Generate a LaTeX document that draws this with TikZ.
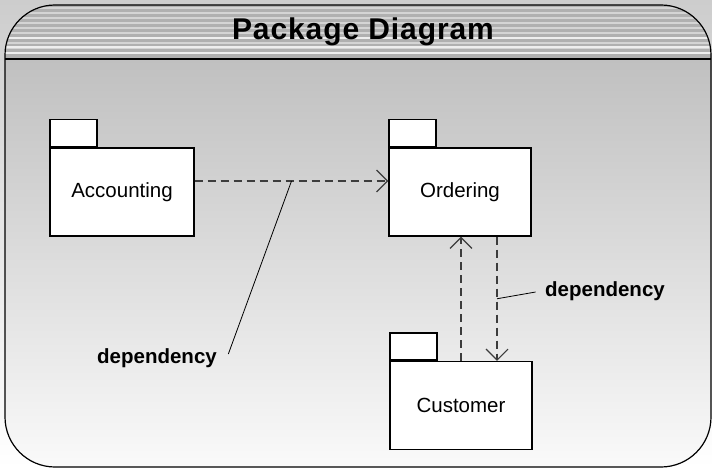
\documentclass[tikz,border=0pt]{standalone}
\usepackage{fontspec}
\setmainfont{Liberation Sans}
\usetikzlibrary{arrows.meta, positioning}
\definecolor{bgTop}{RGB}{205, 205, 205}
\definecolor{bodyTop}{RGB}{192, 192, 192}
\definecolor{bodyBottom}{RGB}{250, 250, 250}
\definecolor{stripeDark}{RGB}{176, 176, 176}
\definecolor{stripeLight}{RGB}{212, 212, 212}
\definecolor{stripeWhite}{RGB}{238, 238, 238}
\definecolor{depGray}{RGB}{60, 60, 60}

\tikzset{
  pkg/.style={draw, line width=1.4pt, fill=white, minimum width=142pt, minimum height=88pt, inner sep=0pt, font=\fontsize{20.5}{22}\selectfont},
  pkgtab/.style={draw, line width=1.4pt, fill=white, minimum width=47pt, minimum height=27pt, inner sep=0pt, anchor=south west},
  dep/.style={draw=depGray, line width=1.1pt, dash pattern=on 8pt off 5pt, -{Straight Barb[length=11pt, width=22pt, line width=1.1pt]}},
  note/.style={font=\bfseries\fontsize{20.5}{22}\selectfont},
}

\begin{document}
\begin{tikzpicture}[x=1pt, y=-1pt]
  % Background
  \useasboundingbox (0,0) rectangle (712,468);
  \shade[top color=bgTop, bottom color=white] (0,0) rectangle (712,468);

  % Frame and title bar
  \begin{scope}
    \clip[rounded corners=50pt] (5,467) -- (5,5) -- (711,5) -- (711,467) -- cycle;
    \shade[top color=bodyTop, bottom color=bodyBottom] (0,59) rectangle (712,468);
    \fill[stripeDark] (0,0) rectangle (712,59);
    \foreach \y in {8,13,...,56}
      \draw[stripeLight, line width=2.5pt] (0,\y) -- (712,\y);
    \foreach \y in {38,47,53}
      \draw[stripeWhite, line width=1.5pt] (0,\y) -- (712,\y);
  \end{scope}
  \draw[line width=1.2pt, rounded corners=50pt] (5,467) -- (5,5) -- (711,5) -- (711,467) -- cycle;
  \draw[line width=1.5pt] (5,59) -- (711,59);
  \node[font=\bfseries\fontsize{30}{32}\selectfont\addfontfeature{LetterSpace=3}] (title) at (363,32) {Package Diagram};

  % Packages
  \node[pkg, minimum width=144pt] (accounting) at (122,192) {Accounting};
  \node[pkgtab] (accountingTab) at (accounting.north west) {};
  \node[pkg] (ordering) at (460,192) {Ordering};
  \node[pkgtab] (orderingTab) at (ordering.north west) {};
  \node[pkg] (customer) at (461,405.5) {Customer};
  \node[pkgtab] (customerTab) at (customer.north west) {};

  % Dependencies
  \draw[dep] ([yshift=11pt]accounting.east) -- coordinate[pos=0.5] (depA) ([yshift=11pt]ordering.west);
  \draw[dep] (customer.north) -- (customer.north |- ordering.south);
  \draw[dep] ([xshift=37pt]ordering.south) -- coordinate[pos=0.5] (depB) ([xshift=37pt]ordering.south |- customer.north);

  % Labels
  \node[note] (noteA) at (157,358) {dependency};
  \node[note] (noteB) at (605,291) {dependency};
  \draw[line width=0.8pt] ([xshift=8pt, yshift=4pt]noteA.east) -- (depA);
  \draw[line width=0.8pt] ([xshift=-6pt, yshift=-1pt]noteB.west) -- (depB);
\end{tikzpicture}
\end{document}
